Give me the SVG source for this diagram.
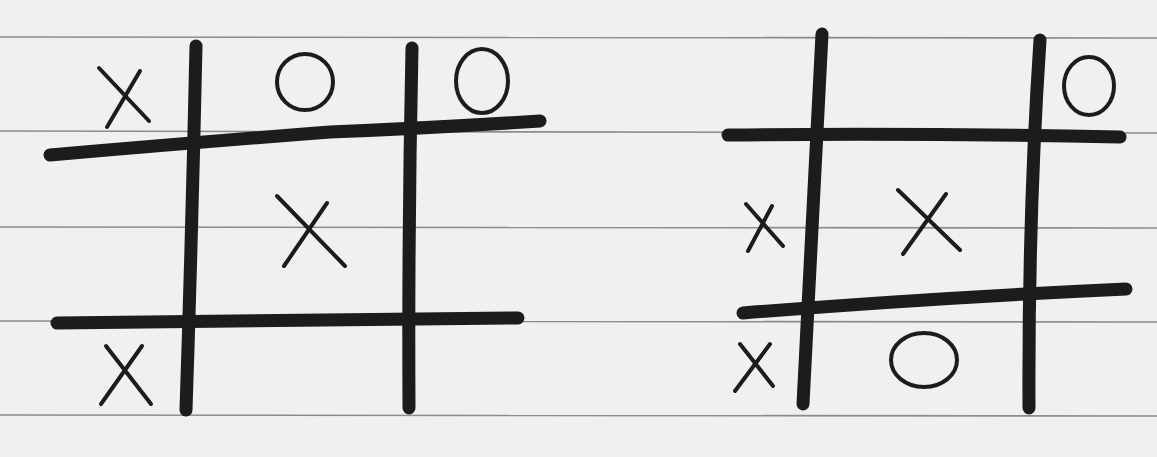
<svg xmlns="http://www.w3.org/2000/svg" width="1157" height="457" viewBox="0 0 1157 457">
<style>
.rule{stroke:#8c8c8c;stroke-width:1.6;fill:none}
.bar{stroke:#1c1c1c;stroke-width:13;stroke-linecap:round;fill:none}
.mark{stroke:#1c1c1c;stroke-width:4;stroke-linecap:round;fill:none}
</style>
<rect width="1157" height="457" fill="#f0f0f3"/>
<g id="rules">
<line class="rule" x1="0" y1="37" x2="1157" y2="38"/>
<line class="rule" x1="0" y1="131" x2="1157" y2="133"/>
<line class="rule" x1="0" y1="227" x2="1157" y2="228"/>
<line class="rule" x1="0" y1="321" x2="1157" y2="322"/>
<line class="rule" x1="0" y1="415" x2="1157" y2="416"/>
</g>
<g id="board-left">
<path class="bar" d="M196,46 Q192,230 186,410"/>
<path class="bar" d="M412,48 Q408,230 409,408"/>
<path class="bar" d="M50,155 Q200,142 330,132 Q430,128 540,121"/>
<path class="bar" d="M57,323 Q300,321 518,318"/>
<path class="mark" d="M99,68 L149,121 M140,71 L107,127"/>
<ellipse class="mark" cx="305" cy="82" rx="28" ry="28"/>
<ellipse class="mark" cx="482" cy="81" rx="26" ry="32"/>
<path class="mark" d="M277,196 L345,266 M327,203 L284,266"/>
<path class="mark" d="M106,346 L151,404 M142,346 L101,404"/>
</g>
<g id="board-right">
<path class="bar" d="M822,34 Q812,220 803,404"/>
<path class="bar" d="M1040,40 Q1028,220 1029,408"/>
<path class="bar" d="M728,135 Q920,133 1120,137"/>
<path class="bar" d="M743,313 Q930,298 1126,289"/>
<ellipse class="mark" cx="1089" cy="86" rx="25" ry="29"/>
<path class="mark" d="M746,204 L783,246 M772,206 L748,251"/>
<path class="mark" d="M898,190 L960,250 M946,194 L903,254"/>
<ellipse class="mark" cx="924" cy="360" rx="33" ry="27"/>
<path class="mark" d="M740,344 L773,386 M770,344 L735,391"/>
</g>
</svg>
